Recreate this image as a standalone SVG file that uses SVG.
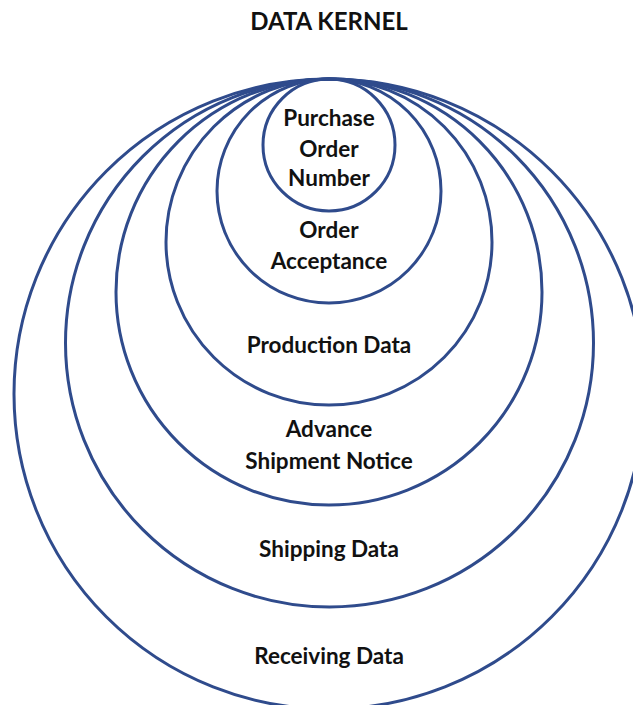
<svg xmlns="http://www.w3.org/2000/svg" width="633" height="705" viewBox="0 0 633 705">
  <style>
    .ring { fill: none; stroke: #2F4B8C; stroke-width: 3; }
    .lbl { font-family: Lato, "Open Sans", "Liberation Sans", sans-serif; font-weight: bold; font-size: 22.5px; fill: #111111; text-anchor: middle; }
    .title { font-size: 24px; }
  </style>
  <rect width="633" height="705" fill="#ffffff"/>
  <text class="lbl title" x="329" y="30">DATA KERNEL</text>

  <!-- nested rings, all touching at the top -->
  <g id="receiving-data">
    <circle class="ring" cx="329" cy="394" r="315"/>
    <text class="lbl" x="329" y="664">Receiving Data</text>
  </g>
  <g id="shipping-data">
    <circle class="ring" cx="329.5" cy="343" r="264"/>
    <text class="lbl" x="329" y="557">Shipping Data</text>
  </g>
  <g id="advance-shipment-notice">
    <circle class="ring" cx="329" cy="292" r="213"/>
    <text class="lbl" x="329" y="437">Advance</text>
    <text class="lbl" x="329" y="469">Shipment Notice</text>
  </g>
  <g id="production-data">
    <circle class="ring" cx="329" cy="242" r="163"/>
    <text class="lbl" x="329" y="353">Production Data</text>
  </g>
  <g id="order-acceptance">
    <circle class="ring" cx="329" cy="191" r="112"/>
    <text class="lbl" x="329" y="238">Order</text>
    <text class="lbl" x="329" y="269">Acceptance</text>
  </g>
  <g id="purchase-order-number">
    <circle class="ring" cx="329" cy="145" r="66"/>
    <text class="lbl" x="329" y="126">Purchase</text>
    <text class="lbl" x="329" y="157">Order</text>
    <text class="lbl" x="329" y="186">Number</text>
  </g>
</svg>
